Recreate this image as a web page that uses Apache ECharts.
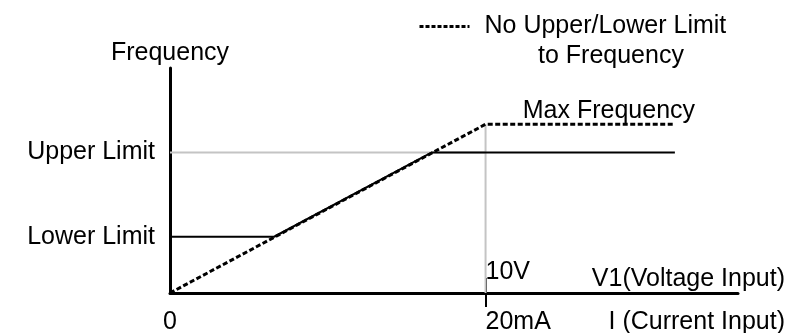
<!DOCTYPE html>
<html>
<head>
<meta charset="utf-8">
<script src="https://cdn.jsdelivr.net/npm/echarts@6/dist/echarts.min.js"></script>
<style>
  html, body { margin: 0; background: #fff; }
  #main { width: 791px; height: 333px; }
</style>
</head>
<body>
<div id="main"></div>
<script>
// input axis: 0..18, 10 = 10V / 20mA ; frequency axis: 0..80, 60 = max frequency
const noLimitLine = [[0, 0], [10, 60], [16, 60]]
const limitedLine = [[0, 20], [3.3, 20], [8.3, 50], [16, 50]]
const upperGuide = [[0, 50], [10, 50]]
const inputGuide = [[10, 60], [10, 0]]
const maxFreqPoint = [16, 60]

const yTicks = [20, 50]
const yTickNames = { 20: 'Lower Limit', 50: 'Upper Limit' }
const xZeroTick = [0]
const xFullTick = [10]

const FONT = '"Liberation Sans", Arial, sans-serif'
const FS = 25
const INK = '#000'

const chart = echarts.init(document.getElementById('main'))

const textBase = { fontFamily: FONT, fontSize: FS, color: INK }

chart.setOption({
  backgroundColor: '#fff',
  animation: false,
  title: {
    text: 'to Frequency',
    left: 538,
    top: 44,
    padding: 0,
    textStyle: Object.assign({ fontWeight: 'normal' }, textBase)
  },
  legend: {
    data: ['No Upper/Lower Limit'],
    left: 418,
    top: 14,
    padding: 0,
    itemWidth: 50,
    itemHeight: 14,
    itemStyle: { opacity: 0 },
    lineStyle: { width: 3, type: [4, 2] },
    textStyle: Object.assign({ padding: [0, 0, 0, 10] }, textBase)
  },
  grid: {
    left: 170,
    right: 53,
    top: 68,
    bottom: 40,
    outerBoundsMode: 'none'
  },
  xAxis: [
    {
      type: 'value',
      min: 0,
      max: 18,
      position: 'bottom',
      splitLine: { show: false },
      axisLine: { lineStyle: { color: INK, width: 3 } },
      axisTick: { show: true, customValues: xFullTick, length: 14, lineStyle: { color: INK, width: 2 } },
      axisLabel: Object.assign({ customValues: xZeroTick, margin: 17 }, textBase),
      name: 'I (Current Input)',
      nameLocation: 'end',
      nameGap: 47,
      nameTextStyle: Object.assign({ align: 'right', verticalAlign: 'top', padding: [17, 0, 0, 0] }, textBase)
    },
    {
      type: 'value',
      min: 0,
      max: 18,
      position: 'bottom',
      splitLine: { show: false },
      axisLine: { show: false },
      axisTick: { show: true, inside: true, customValues: xFullTick, length: 15, lineStyle: { color: INK, width: 2 } },
      axisLabel: Object.assign({ inside: true, customValues: xFullTick, formatter: () => '10V', align: 'left', margin: 8 }, textBase),
      name: 'V1(Voltage Input)',
      nameLocation: 'end',
      nameGap: 47,
      nameTextStyle: Object.assign({ align: 'right', verticalAlign: 'bottom', padding: [0, 0, 1, 0] }, textBase)
    },
    {
      type: 'value',
      min: 0,
      max: 18,
      position: 'bottom',
      splitLine: { show: false },
      axisLine: { show: false },
      axisTick: { show: false },
      axisLabel: Object.assign({ customValues: xFullTick, formatter: () => '20mA', align: 'left', margin: 17 }, textBase)
    }
  ],
  yAxis: {
    type: 'value',
    min: 0,
    max: 80,
    splitLine: { show: false },
    axisLine: { show: true, lineStyle: { color: INK, width: 3 } },
    axisTick: { show: false },
    axisLabel: Object.assign({ customValues: yTicks, formatter: v => yTickNames[v], margin: 15 }, textBase),
    name: 'Frequency',
    nameLocation: 'end',
    nameGap: 2,
    nameTextStyle: Object.assign({ align: 'center' }, textBase)
  },
  series: [
    {
      name: 'upper guide',
      type: 'line',
      data: upperGuide,
      symbol: 'none',
      silent: true,
      lineStyle: { color: '#c4c4c4', width: 2 }
    },
    {
      name: 'input guide',
      type: 'line',
      data: inputGuide,
      symbol: 'none',
      silent: true,
      lineStyle: { color: '#c4c4c4', width: 2 }
    },
    {
      name: 'With limits',
      type: 'line',
      data: limitedLine,
      symbol: 'none',
      lineStyle: { color: INK, width: 2 }
    },
    {
      name: 'No Upper/Lower Limit',
      type: 'line',
      data: noLimitLine,
      symbol: 'none',
      itemStyle: { color: INK },
      lineStyle: { color: INK, width: 3, type: [5, 2.5] },
      markPoint: {
        symbol: 'circle',
        symbolSize: 0,
        data: [{ coord: maxFreqPoint }],
        label: Object.assign({
          show: true,
          formatter: 'Max Frequency',
          position: 'top',
          distance: 1,
          offset: [-66, 0]
        }, textBase)
      }
    }
  ]
})
</script>
</body>
</html>
